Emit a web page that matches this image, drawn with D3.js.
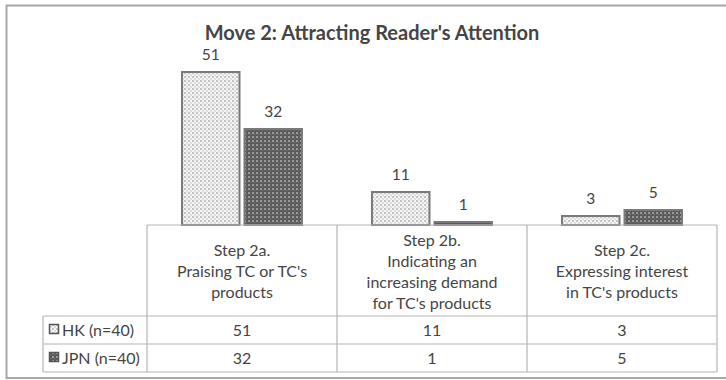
<!DOCTYPE html>
<html><head><meta charset="utf-8">
<script src="https://cdn.jsdelivr.net/npm/d3@7"></script>
<style>body{margin:0;background:#fff}svg{display:block}text{font-family:Lato,"Open Sans",sans-serif;fill:#454545}</style>
</head><body><svg id="c" width="726" height="380"></svg>
<script>
const title = "Move 2: Attracting Reader's Attention";
const categories = ["Step 2a.|Praising TC or TC's|products","Step 2b.|Indicating an|increasing demand|for TC's products","Step 2c.|Expressing interest|in TC's products"];
const seriesNames = ["HK (n=40)","JPN (n=40)"];
const hkValues = [51, 11, 3];
const jpnValues = [32, 1, 5];
const yDomain = [0, 60];

const svg = d3.select("#c");
const defs = svg.append("defs");
const pl = defs.append("pattern").attr("id","pHK").attr("patternUnits","userSpaceOnUse").attr("width",4).attr("height",4);
pl.append("rect").attr("width",4).attr("height",4).attr("fill","#f4f4f4");
pl.append("rect").attr("x",0).attr("y",0).attr("width",2).attr("height",2).attr("fill","#c4c4c4");
pl.append("rect").attr("x",2).attr("y",2).attr("width",2).attr("height",2).attr("fill","#dcdcdc");
const pd = defs.append("pattern").attr("id","pJP").attr("patternUnits","userSpaceOnUse").attr("width",4).attr("height",4);
pd.append("rect").attr("width",4).attr("height",4).attr("fill","#5a5a5a");
pd.append("rect").attr("x",0).attr("y",0).attr("width",2).attr("height",2).attr("fill","#9a9a9a");
pd.append("rect").attr("x",2).attr("y",2).attr("width",1).attr("height",1).attr("fill","#7a7a7a");
const fills = ["url(#pHK)","url(#pJP)"];

// frame
svg.append("rect").attr("x",6.5).attr("y",5.5).attr("width",740).attr("height",372.5).attr("fill","none").attr("stroke","#a8a8a8").attr("stroke-width",2);

svg.append("text").attr("x",372).attr("y",40).attr("text-anchor","middle").attr("font-size",20).attr("font-weight","bold").attr("fill","#383838").text(title);

const x0 = d3.scaleBand().domain(d3.range(categories.length)).range([147,717]).padding(0);
const x1 = d3.scaleBand().domain(d3.range(seriesNames.length)).range([35, x0.bandwidth()-35]).paddingInner(0.08);
const y = d3.scaleLinear().domain(yDomain).range([225,45]);

const data = categories.map((c,i)=>[hkValues[i], jpnValues[i]]);
const g = svg.append("g");
data.forEach((vals,i)=>{
  vals.forEach((v,s)=>{
    const bx = x0(i)+x1(s);
    g.append("rect").attr("x",bx).attr("y",y(v)).attr("width",x1.bandwidth()).attr("height",y(0)-y(v))
      .attr("fill",fills[s]).attr("stroke","#7a7a7a").attr("stroke-width",2);
    g.append("text").attr("x",bx+x1.bandwidth()/2).attr("y",y(v)-12).attr("text-anchor","middle").attr("font-size",15.5).text(v);
  });
});

// table
const tc = "#b4b4b4";
const rowTop = 316, rowH = 28;
const line = (x1_,y1_,x2_,y2_)=>svg.append("line").attr("x1",x1_).attr("y1",y1_).attr("x2",x2_).attr("y2",y2_).attr("stroke",tc).attr("stroke-width",1.2);
line(147,225,717,225);
x0.domain().forEach(i=>line(x0(i),225,x0(i),rowTop+2*rowH));
line(717,225,717,rowTop+2*rowH);
line(43,rowTop,43,rowTop+2*rowH);
for(let r=0;r<=2;r++) line(43,rowTop+r*rowH,717,rowTop+r*rowH);

categories.forEach((c,i)=>{
  const lines = c.split("|");
  const lh = 21;
  const cy = (225+rowTop)/2;
  const start = cy - (lines.length-1)*lh/2 + 6.5;
  const t = svg.append("text").attr("text-anchor","middle").attr("font-size",16);
  lines.forEach((l,k)=>t.append("tspan").attr("x",x0(i)+x0.bandwidth()/2).attr("y",start+k*lh).text(l));
});

const rowVals = [hkValues, jpnValues];
seriesNames.forEach((s,r)=>{
  const cy = rowTop + r*rowH + rowH/2;
  svg.append("rect").attr("x",49.5).attr("y",cy-5.5).attr("width",9).attr("height",9).attr("fill",fills[r]).attr("stroke","#555").attr("stroke-width",1.5);
  svg.append("text").attr("x",62).attr("y",cy+5.5).attr("font-size",16).text(s);
  rowVals[r].forEach((v,i)=>{
    svg.append("text").attr("x",x0(i)+x0.bandwidth()/2).attr("y",cy+5.5).attr("text-anchor","middle").attr("font-size",16).text(v);
  });
});
</script></body></html>
